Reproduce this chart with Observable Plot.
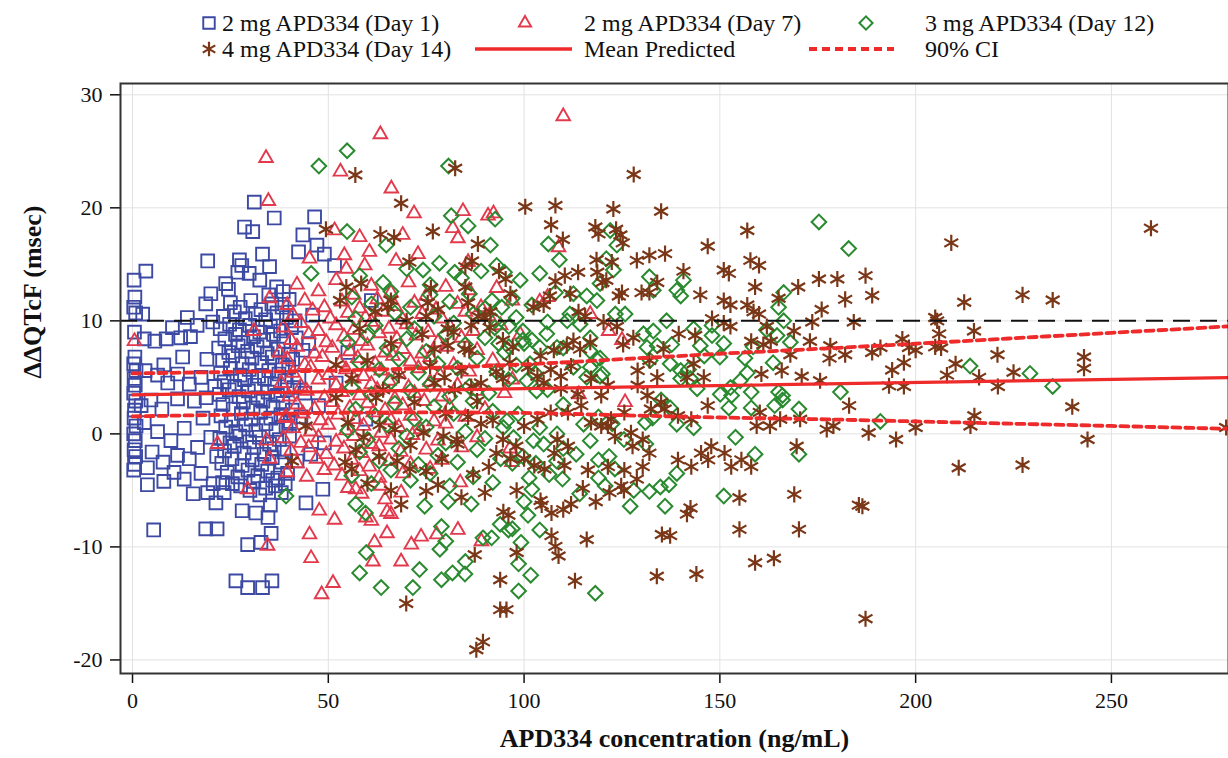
<!DOCTYPE html>
<html><head><meta charset="utf-8">
<script src="https://cdn.jsdelivr.net/npm/d3@7"></script>
<script src="https://cdn.jsdelivr.net/npm/@observablehq/plot@0.6"></script>
<style>
html,body{margin:0;padding:0;background:#fff;}
#wrap{position:relative;width:1228px;height:758px;overflow:hidden;background:#fff;}
#chart{position:absolute;left:0;top:0;}
#legend{position:absolute;left:0;top:0;}
</style></head>
<body>
<div id="wrap"><div id="chart"></div><svg id="legend" width="1228" height="72"></svg></div>
<script>
// ---------- data (concentration ng/mL, ΔΔQTcF msec) ----------
const day1 = [
[0.4,13.6],[0.6,12.1],[0.3,11.2],[0.8,10.7],[0.5,9.0],[0.6,6.8],[0.3,6.2],[0.9,5.6],[0.4,4.9],[0.7,4.3],[0.3,3.6],[0.8,2.9],[0.5,2.1],[0.4,1.4],[0.9,0.7],[0.3,0.0],[0.7,-0.6],[0.4,-1.4],[0.8,-2.0],[0.5,-2.7],[0.3,-3.2],
[31.1,20.5],[36.2,19.1],[28.6,18.3],[30.7,17.9],[46.5,19.2],[43.5,17.6],[47.1,16.7],[42.4,16.1],[49.0,15.9],[51.6,14.9],[33.2,15.9],[35.0,14.8],[27.3,15.4],[27.9,14.9],[19.2,15.3],[3.4,14.4],[26.9,14.3],[29.8,14.2],[32.5,13.6],[36.8,13.0],[38.5,12.6],[34.8,12.3],[24.5,12.8],
[3.8,-4.5],[19.2,-5.2],[23.4,-5.2],[21.3,-6.1],[5.4,-8.5],[18.7,-8.4],[21.6,-8.4],[29.4,-9.8],[32.8,-9.6],[35.4,-8.8],[34.6,-7.4],[35.2,-6.3],[26.4,-13.0],[29.4,-13.6],[33.2,-13.6],[35.6,-13.0],[44.3,-6.1],[48.6,-4.9],[30.0,-5.0],[32.5,-5.4],[34.0,-4.8],[36.5,-4.6],[38.0,-5.2],[28.0,-6.8],[31.5,-7.0],[25.5,-4.4],
[2.6,10.6],[14.0,10.3],[18.7,11.5],[20.0,12.4],[23.8,13.3],[16.5,9.6],[10.2,9.4],[3.0,8.4],[5.7,8.2],[8.6,8.4],[12.3,8.5],[14.8,8.6],[20.5,9.9],
[6.4,5.2],[9.0,4.5],[11.5,5.3],[14.5,4.4],[17.5,5.0],[21.0,4.2],[3.2,5.6],[8.0,6.1],[19.0,6.6],[12.8,6.8],
[4.7,3.0],[11.5,3.1],[15.8,2.9],[18.8,3.2],[7.5,2.2],[2.2,2.5],
[3.0,1.0],[6.4,0.2],[9.8,-0.6],[13.2,0.5],[16.6,-1.2],[20.0,-0.3],[5.0,-1.6],[11.5,-1.9],[18.0,1.4],[7.8,-2.5],[14.5,-2.2],[21.5,-2.0],
[3.8,-3.0],[10.6,-3.4],[13.2,-4.0],[17.5,-3.5],[8.0,-4.2],[20.6,-4.4],[15.5,-5.3],
[25.0,11.6],[27.5,11.2],[30.2,11.8],[32.8,11.0],[35.6,11.5],[38.2,11.2],[40.0,11.9],
[23.2,10.4],[26.0,10.8],[28.8,10.2],[31.4,10.6],[34.0,10.1],[36.9,10.7],[39.3,10.3],[41.5,10.0],
[22.4,9.3],[24.8,9.7],[27.3,9.2],[29.9,9.6],[32.5,9.0],[35.2,9.5],[37.8,9.1],[40.6,9.4],
[23.6,8.4],[26.3,8.8],[28.2,8.1],[30.9,8.6],[33.5,8.3],[36.0,8.8],[38.6,8.2],[41.8,8.5],[45.0,8.0],
[22.0,7.6],[24.6,7.2],[27.0,7.8],[29.4,7.3],[31.8,7.7],[34.4,7.1],[37.2,7.5],[39.8,7.0],[43.5,7.4],
[23.0,6.5],[25.6,6.9],[28.0,6.2],[30.5,6.7],[33.0,6.3],[35.7,6.8],[38.3,6.1],[40.9,6.6],
[22.5,5.4],[25.0,5.8],[27.5,5.2],[29.8,5.7],[32.2,5.1],[34.8,5.6],[37.4,5.3],[39.9,5.9],[42.5,5.0],
[23.4,4.6],[26.1,4.2],[28.6,4.8],[31.2,4.3],[33.7,4.9],[36.3,4.4],[38.9,4.7],[41.2,4.1],
[22.2,3.5],[24.7,3.9],[27.2,3.3],[29.6,3.8],[32.0,3.2],[34.6,3.7],[37.0,3.4],[39.5,3.9],[44.0,3.6],
[23.1,2.6],[25.7,2.2],[28.3,2.8],[30.8,2.3],[33.3,2.9],[35.9,2.4],[38.4,2.7],[40.8,2.1],
[22.6,1.6],[25.2,1.2],[27.8,1.8],[30.3,1.3],[32.7,1.9],[35.3,1.4],[37.9,1.7],[40.3,1.1],[43.0,1.5],
[23.8,0.6],[26.4,0.2],[28.9,0.8],[31.5,0.3],[34.1,0.9],[36.6,0.4],[39.2,0.7],
[22.3,-0.4],[24.9,-0.8],[27.4,-0.2],[29.9,-0.7],[32.4,-0.3],[35.0,-0.9],[37.5,-0.5],[40.1,-0.2],
[23.5,-1.5],[26.0,-1.1],[28.5,-1.7],[31.0,-1.2],[33.6,-1.8],[36.2,-1.3],[38.7,-1.6],
[22.8,-2.6],[25.4,-2.2],[28.0,-2.8],[30.6,-2.3],[33.0,-2.7],[35.7,-2.1],[38.1,-2.5],[42.0,-2.4],
[24.2,-3.4],[26.9,-3.8],[29.5,-3.2],[32.0,-3.7],[34.5,-3.3],[37.1,-3.9],[39.6,-3.5],
[23.0,-4.3],[27.6,-4.6],[31.0,-4.2],[35.8,-4.1],[39.0,-4.4],
[49.0,-0.8],[55.0,7.2],[61.0,11.8],[47.5,2.5],[45.5,-1.8],[52.0,4.5],[46.0,10.5],[59.6,1.3]
];
const day7 = [
[0.5,8.2],[35.0,12.0],[31.0,9.1],[21.7,-0.9],[34.2,-0.6],[35.0,-2.2],[39.2,1.5],
[110,28.1],[63.3,26.5],[34.1,24.4],[53.1,23.2],[66.1,21.7],[34.7,20.6],[71.9,19.5],[84.4,19.7],[81.8,18.2],[83.1,17.3],[58,17.4],[60.5,16.1],[45.2,15.5],[54.1,15.8],[51.6,18.0],[69,17.6],[72.9,15.9],[67.3,15.3],[59.3,14.9],[54.6,14.6],[85.7,15.2],[90.8,19.3],[92.2,19.5],[108.8,16.5],
[29.4,-4.9],[34.5,-9.9],[47.7,-6.8],[51.6,-7.6],[45.2,-8.9],[45.6,-11],[51.2,-13.2],[48.3,-14.2],[61.8,-9.6],[61.4,-11.3],[65,-8.8],[68.6,-11.3],[71.2,-9.8],[73.7,-9.1],[77.7,-8.9],[83.1,-8.5],[89.1,-9.5],[59.6,-7.4],[61,-7.7],[63.5,-4.6],[64.5,-5.8],[65,-6.9],[66,-7.1],[68.6,-5.2],[57,-4.9],[58.5,-5.3],[55,-4.8],[83.7,-4.3],
[104,11.7],[106,12.1],[116.9,10.6],[121.6,9.1],[125,8.3],[125.8,2.8],[96.4,-1.3],[96.9,-2.5],[95,3.6],[114,3.5],
[42,13.2],[47.5,12.6],[52,13.6],[56.5,12.3],[61,13.1],[66,12.5],[70.5,13.4],[75,12.2],[80,13.0],[86,12.7],[93,12.9],
[39.5,11.4],[44,11.8],[49,11.2],[53.5,11.7],[58,11.1],[62.5,11.9],[67,11.3],[72,11.6],[77.5,11.0],[83,11.5],[89,11.2],[97,11.8],
[41,10.5],[46,10.9],[50.5,10.2],[55,10.7],[59.5,10.3],[64,10.8],[69,10.1],[74,10.6],[79,10.2],[85,10.8],[91,10.4],
[38.5,9.4],[43,9.8],[47.5,9.1],[52,9.6],[56.5,9.2],[61,9.9],[65.5,9.3],[70,9.7],[75.5,9.0],[81,9.5],[87,9.1],[94,9.6],
[40.5,8.3],[45,8.8],[49.5,8.1],[54,8.6],[58.5,8.2],[63,8.9],[67.5,8.4],[72.5,8.7],[78,8.1],[84,8.5],[99,8.8],
[37.5,7.2],[42,7.7],[46.5,7.1],[51,7.6],[55.5,7.3],[60,7.8],[64.5,7.2],[69,7.5],[74,7.1],[80,7.7],[88,7.4],
[39.5,6.6],[44,6.1],[48.5,6.8],[53,6.3],[57.5,6.7],[62,6.2],[66.5,6.9],[71,6.4],[76,6.8],[82,6.1],[92,6.5],
[41,5.4],[45.5,5.9],[50,5.2],[54.5,5.7],[59,5.1],[63.5,5.6],[68,5.3],[73,5.8],[78.5,5.2],[86,5.5],
[38,4.5],[43,4.2],[47.5,4.8],[52,4.3],[56.5,4.9],[61,4.4],[65.5,4.7],[70.5,4.1],[76,4.6],[83,4.3],[97,4.8],
[40,3.3],[44.5,3.8],[49,3.2],[53.5,3.7],[58,3.4],[62.5,3.9],[67,3.1],[72,3.6],[79,3.3],[88,3.8],
[42,2.6],[46.5,2.2],[51,2.8],[55.5,2.3],[60,2.7],[64.5,2.1],[69,2.5],[74.5,2.9],[81,2.4],[90,2.2],
[39,1.4],[43.5,1.8],[48,1.2],[52.5,1.7],[57,1.3],[61.5,1.9],[66,1.2],[71,1.6],[77,1.1],[85,1.5],
[41,0.5],[45.5,0.2],[50,0.8],[54.5,0.3],[59,0.7],[63.5,0.1],[68,0.6],[73.5,0.4],[80,0.9],
[38.5,-0.4],[43,-0.8],[47.5,-0.3],[52,-0.7],[56.5,-0.2],[61,-0.9],[66,-0.5],[71.5,-0.1],[78,-0.6],[88,-0.3],
[40.5,-1.5],[45,-1.2],[49.5,-1.8],[54,-1.3],[58.5,-1.7],[63,-1.1],[68.5,-1.6],[75,-1.4],[84,-1.2],
[42,-2.6],[47,-2.2],[51.5,-2.8],[56,-2.3],[60.5,-2.9],[65.5,-2.4],[71,-2.7],[79,-2.3],
[39.5,-3.4],[44.5,-3.8],[49,-3.2],[53.5,-3.7],[58,-3.3],[63,-3.9],[69,-3.5],[76,-3.1]
];
const day12 = [
[54.8,25.05],[47.6,23.7],[80.7,23.7],[81.4,19.3],[85.7,18.4],[64.8,16.7],[54.8,17.9],[78.4,15.1],[74.2,14.5],[82.3,14.3],[45.6,14.2],[92.6,19.0],[91.4,16.7],[106.2,16.8],[109,15.4],[122,18.0],[123.7,16.7],[122.8,14.5],[132,13.9],[175.3,18.75],[182.9,16.4],[93,14.9],[95,14.3],[121,15.5],
[213.9,6.0],[229.2,5.35],[235,4.2],[191,1.1],
[102,-4.9],[100,-6.0],[101,-7.2],[93.9,-8.0],[96,-8.5],[97,-8.4],[104,-8.5],[99.2,-9.6],[98.6,-11.5],[101.7,-12.5],[98.6,-13.9],[118.2,-14.1],[127.1,-6.4],[136,-6.4],[120.7,-4.6],[114.2,-5.3],[151,-5.5],[91.7,-9.2],[39.2,-5.5],[74.6,-6.4],[80.6,-6.0],[86.5,-6.2],[78.9,-8.2],[80,-9.5],[78.5,-10.2],[59.7,-10.5],[58,-12.3],[63.5,-13.6],[71.6,-13.6],[73.3,-12.0],[78.9,-12.9],[81.7,-12.3],[84.9,-12.4],[85,-11.3],[89.5,-9.2],[57,-6.2],[59.5,-7.0],
[166.3,12.5],[165,11.2],[166.3,10.0],[164.6,8.7],[168,8.1],[180.8,3.7],[170.2,2.2],[166,3.4],[166,3.0],[154,-0.3],[170.2,-1.8],[159,-1.8],[150.1,3.5],[152.3,2.3],[152.7,4.1],[157,5.4],[155.2,4.7],[150,6.8],[151,8.0],[148,9.6],[148,8.7],[146,6.9],[142,5.7],[140,4.9],[143.3,0.55],[139,0.86],[132.8,1.4],[131,1.0],[137.3,2.3],[135,3.0],[137,-4.5],[139,-3.5],[134.8,-4.7],[131.1,-0.9],[128,-5.0],[132,-5.1],[116.9,-0.6],[115.2,0.86],[119,1.5],[118.5,6.6],[116.9,5.9],[120,5.3],[130.5,8.85],[133,9.1],[131.4,7.65],[134,7.8],[132.2,6.5],[123.3,10.6],[125.8,10.6],[133,12.7],[140,12.2],[139,12.7],[140.7,13.6],[111,10.0],[105.8,8.85],[108.4,7.65],[104,7.65],[112.6,5.9],[116,5.0],[119.4,5.1],[101.5,6.2],[100.7,4.7],[103.2,3.8],[98.5,1.75],[95.6,1.15],[94.7,0.56],[97.3,-0.33],[104,0.56],[102.4,-0.6],[105,-0.9],[108.4,0.0],[110,-1.3],[113.3,-1.8],[108.3,-2.4],[99.7,-2.0],[103,-2.6],[97,-2.6],[101.3,-3.9],[106.4,-3.6],[109.8,-4.0],[119,-2.3],[121.7,-2.0],[119,-3.9],[123.2,-3.1],[122.5,0.9],[125.5,-0.5],[140,5.6],
[91.8,11.8],[94.3,11.2],[92.6,10.0],[96.1,9.5],[93.5,8.0],[96.1,7.7],[99.7,9.1],[99.7,8.3],[102,8.3],[112.6,12.4],[116,12.2],[118.6,11.8],[119.4,13.3],[111.7,10.6],[114.3,9.7],[116.9,8.5],[116.9,7.3],[119.4,6.7],[136.4,10.0],[137.7,7.9],[137.3,6.2],[143.3,9.3],[145,7.8],[142.5,4.9],[144.2,4.0],[158.5,7.7],[156.4,6.7],[161.9,9.2],[163.6,6.3],[153,3.4],[158,3.7],[158,2.3],[165,3.7],[164,2.5],
[58,14.0],[64,13.4],[70,14.6],[76,13.2],[84,13.8],[89,14.4],[99,13.6],[104,14.2],
[56,12.1],[61,11.5],[66,12.6],[71,11.2],[76,12.3],[81,11.7],[86,12.4],[90,11.1],[97,12.0],[102,11.4],[108,12.5],
[57,10.2],[62,9.6],[67,10.7],[72,9.3],[77,10.4],[82,9.8],[87,10.6],[92.5,9.4],[98,10.3],[106,9.9],
[55,8.1],[60,8.7],[65,7.6],[70,8.4],[75,7.3],[80,8.8],[85,7.9],[90,8.5],[95,7.2],[100,8.0],[110,7.6],
[58,6.3],[63,5.7],[68,6.6],[73,5.4],[78,6.2],[83,5.8],[88,6.7],[93,5.5],[98,6.1],[103,5.3],
[56,4.1],[61,3.5],[66,4.6],[71,3.8],[76,4.4],[81,3.3],[86,4.2],[91,3.6],[96,4.8],[106,3.9],
[57,2.2],[62,1.6],[67,2.7],[72,1.3],[77,2.4],[82,1.8],[87,2.9],[92,2.0],[110,2.6],
[55,0.3],[60,-0.5],[65,0.8],[70,-0.2],[75,0.6],[80,-0.8],[85,0.2],[90,-0.4],
[58,-1.6],[63,-2.4],[68,-1.3],[73,-2.7],[78,-1.9],[83,-2.5],[88,-1.4],[94,-2.2],
[56,-3.7],[61,-4.4],[66,-3.2],[71,-4.1],[76,-3.5],[81,-4.6],[87,-3.8],[92,-4.3]
];
const day14 = [
[56.9,22.9],[68.6,20.4],[82.4,23.5],[49.4,18.1],[63.3,17.65],[66.8,17.4],[76.7,17.9],[88.2,16.8],[70.7,15.2],[86.7,15.3],[85,14.8],[128,22.95],[100.3,20.1],[108,20.2],[122.8,19.9],[135,19.7],[106.9,18.5],[118.2,18.3],[119,17.7],[123.5,18.1],[124.6,17.6],[125.2,16.9],[109.9,17.2],[146.9,16.6],[157,18.0],[128.8,15.35],[132,15.8],[136,15.95],[140.7,14.4],[151,14.5],[152.3,14.2],[157.8,15.35],[160,14.9],[118.5,15.4],[122.4,15.2],[113.8,14.3],[110.4,14.0],[108,13.5],[118.7,14.3],[93.6,14.4],[95.3,13.7],[175.3,13.7],[180,13.7],[209.1,16.9],[260.1,18.2],[187.2,14.0],
[188.9,12.25],[212.4,11.65],[227.3,12.3],[235,11.85],[205,10.3],[205.5,10.0],[206,8.85],[214.9,9.1],[196.6,8.4],[198.3,7.65],[200,7.4],[205,7.7],[206.5,7.6],[191,7.65],[188.9,7.2],[220.9,7.0],[243,6.8],[243,5.8],[210.2,6.2],[208,5.2],[197,6.3],[194,5.65],[225,5.45],[216.2,5.0],[193.2,4.25],[197,4.2],[221,4.2],[240,2.4],[215,1.6],[214,0.7],[200,0.56],[188,0.1],[195,-0.5],[243.9,-0.5],[279.3,0.56],[211,-3.0],[227.3,-2.75],
[186.4,-6.4],[187.2,-16.35],[98.1,-5.0],[104.2,-5.9],[104.5,-6.3],[107,-7.0],[110,-6.7],[112,-6.2],[115,-4.8],[118.3,-6.0],[121.8,-5.2],[124.8,-4.6],[125.5,-5.0],[128.8,-4.0],[96,-7.2],[94.7,-6.9],[107,-9.0],[108,-9.95],[108.8,-10.8],[116,-9.35],[135.2,-8.9],[137.3,-9.0],[142.5,-6.55],[141.6,-7.1],[133.9,-12.6],[144,-12.4],[113,-13.0],[93.9,-12.9],[98.1,-10.5],[93.9,-15.55],[95.5,-15.55],[87.8,-19.1],[89.5,-18.4],[155,-5.65],[155,-8.45],[169,-5.35],[170.2,-8.45],[159,-11.4],[163.8,-11.0],[185.5,-6.3],[75,-5.05],[68.6,-6.25],[87.4,-10.7],[69.9,-15.0],
[159,13.0],[151,11.8],[152.7,11.4],[157,11.4],[158.6,10.8],[160,10.6],[173.6,9.9],[184.2,9.9],[152.7,9.5],[151,9.8],[168.9,9.1],[173,8.2],[178.2,7.8],[139.5,8.85],[143.7,8.7],[135.6,7.5],[161.1,7.9],[163,8.2],[158,8.2],[168,7.0],[178,6.7],[182,7.0],[143.3,6.2],[141.6,5.0],[145.9,5.0],[160.6,5.3],[165.8,5.6],[170.9,5.1],[175.6,4.7],[183,2.5],[132,6.5],[129,5.6],[134,5.0],[125.3,7.9],[127.9,8.5],[130,12.5],[132,12.5],[134,13.4],[124.2,12.2],[125,12.5],[120,13.4],[121,13.6],[111.8,12.4],[106.6,12.2],[102.4,11.2],[105,11.4],[96.5,12.4],[91.4,10.8],[113.9,10.8],[115.6,10.4],[120.3,9.9],[123.7,9.5],[112.6,8.25],[110.9,7.8],[114.3,7.5],[116.9,8.1],[107.6,7.4],[104.2,6.9],[106.8,5.7],[109.4,5.1],[112,6.0],[103.4,5.1],[105,4.5],[101,5.9],[94.6,8.3],[97.1,7.7],[91.2,9.4],[92.9,5.5],[94.6,4.9],[96.3,6.3],[109.4,4.0],[113.7,3.5],[117.1,4.9],[121.4,4.3],[119.7,3.4],[129,4.3],[131.5,3.4],[135,2.8],[132.4,2.2],[125.6,1.9],[122.2,1.3],[127.3,0.1],[135.9,2.2],[139.3,1.6],[142.7,1.3],[146.9,2.5],[114.6,2.5],[111.2,1.9],[117.1,1.0],[119.7,0.7],[106.8,1.9],[103.4,1.3],[100,0.7],[160.2,1.9],[162.8,0.7],[159.4,0.7],[165.4,1.3],[170.5,1.3],[177.3,0.4],[179,0.7],[169.6,-1.1],[147.8,-1.1],[145.2,-1.7],[151.2,-1.7],[147,-2.3],[142.7,-2.9],[139.3,-2.3],[155.5,-2.3],[152.9,-2.9],[158,-2.9],[130.3,-0.5],[127.7,-1.1],[132,-1.7],[130.3,-2.9],[121.4,0.7],[123.2,-0.2],[125.6,-3.2],[121.4,-2.9],[116.3,-3.2],[110.3,-2.8],[105.2,-3.1],[102.6,-2.8],[100,-2.2],[96.5,-2.2],[108.5,-0.5],[111.2,-1.1],[107.7,-1.7],[94.6,-0.5],[92.9,-1.7],[98,-1.1],
[54.6,13.0],[58.4,13.3],[66,11.8],[65.2,11.2],[76.2,12.9],[85,13.0],[80.5,7.8],[77.1,7.5],[84.8,7.5],[86.5,9.6],[80.5,9.3],[74.3,0.1],[79.4,-0.2],[82.8,-0.5],[40.7,-2.4],[44.2,0.7],[52.0,3.2],[62.2,3.2],[63.1,0.8],[57.0,-1.4],[67.6,-2.4],[85.7,1.5],[89,0.9],[54.3,-2.5],[56,-3.1],[70.8,-3.1],[75,10.4],[75.4,11.6],[85.7,11.6],[88.3,10.4],[77.1,4.5],[79.7,5.0],[82.3,3.9],[86.5,4.2],[89,4.5],
[53,11.8],[58,9.3],[62,10.8],[66,8.0],[70,10.0],[74,8.8],[78,11.0],[82,9.0],[86,7.4],[90,10.3],
[52,6.1],[56,4.9],[60,6.5],[64,3.9],[68,5.2],[72,2.8],[76,6.0],[80,1.8],[84,5.6],[88,2.9],[92,1.2],
[55,1.0],[59,-0.3],[63,-2.0],[67,0.4],[71,-1.0],[75,-3.3],[79,-2.2],[83,-0.9],[87,-3.6],[91,-2.9],
[60,-4.4],[66,-5.0],[78,-4.5],[84,-5.6],[90,-5.2],
[145,12.3],[165,12.0],[170,13.0],[176,11.0],[182,11.9],[148,10.2],[162,9.5]
];
// fitted mean and 90% CI
const meanX = [0, 280];
const meanY = [3.45, 4.98];
const ciX = [0, 25, 50, 75, 100, 125, 150, 175, 200, 225, 250, 280];
const ciUpper = [5.35, 5.48, 5.59, 5.82, 6.15, 6.61, 7.09, 7.52, 7.98, 8.46, 8.94, 9.51];
const ciLower = [1.55, 1.7, 1.85, 1.9, 1.85, 1.65, 1.45, 1.3, 1.1, 0.9, 0.7, 0.45];
const refY = [10];
const xTicks = [0, 50, 100, 150, 200, 250];
const yTicks = [-20, -10, 0, 10, 20, 30];
const legendLabels = ["2 mg APD334 (Day 1)", "2 mg APD334 (Day 7)", "3 mg APD334 (Day 12)", "4 mg APD334 (Day 14)", "Mean Predicted", "90% CI"];
const xTitle = "APD334 concentration (ng/mL)";
const yTitle = "ΔΔQTcF (msec)";

// ---------- styles ----------
const BLUE = "#3d4aa3", RED = "#e23a4c", GREEN = "#2a8a2f", BROWN = "#7a3717", LRED = "#ee2a2a";
const FONT = "'Liberation Serif', 'Times New Roman', serif";
const sym = {
  d1: {symbol: "square", r: 7.2, stroke: BLUE, sw: 1.9},
  d7: {symbol: "triangle2", r: 6.5, stroke: RED, sw: 1.9},
  d12: {symbol: "diamond2", r: 6.6, stroke: GREEN, sw: 2.0},
  d14: {symbol: "asterisk", r: 7.6, stroke: BROWN, sw: 2.2}
};
const acc = {x: d => d[0], y: d => d[1]};
const ciUp = ciX.map((x, i) => [x, ciUpper[i]]);
const ciLo = ciX.map((x, i) => [x, ciLower[i]]);
const mean = meanX.map((x, i) => [x, meanY[i]]);
const dots = (data, s) => Plot.dot(data, {...acc, symbol: s.symbol, r: s.r, stroke: s.stroke, strokeWidth: s.sw, fill: "none"});

const chart = Plot.plot({
  width: 1228, height: 758,
  marginTop: 83, marginRight: 0, marginBottom: 85, marginLeft: 120,
  style: {fontFamily: FONT, background: "transparent", color: "#111"},
  x: {domain: [-3.07, 279.9]},
  y: {domain: [-21.2, 31.0]},
  marks: [
    Plot.gridX(xTicks, {stroke: "#e2e2e2", strokeOpacity: 1, strokeWidth: 1}),
    Plot.gridY(yTicks, {stroke: "#e2e2e2", strokeOpacity: 1, strokeWidth: 1}),
    dots(day1, sym.d1),
    dots(day7, sym.d7),
    dots(day12, sym.d12),
    dots(day14, sym.d14),
    Plot.ruleY(refY, {stroke: "#111", strokeWidth: 2, strokeDasharray: "17,10"}),
    Plot.line(ciUp, {...acc, stroke: LRED, strokeWidth: 3.8, strokeDasharray: "8,5", curve: "monotone-x", clip: true}),
    Plot.line(ciLo, {...acc, stroke: LRED, strokeWidth: 3.8, strokeDasharray: "8,5", curve: "monotone-x", clip: true}),
    Plot.line(mean, {...acc, stroke: LRED, strokeWidth: 3.3, clip: true}),
    Plot.axisX(xTicks, {tickSize: 10, tickPadding: 9, fontSize: 22, label: null, tickFormat: d => String(d), stroke: "#111", strokeWidth: 1.5}),
    Plot.axisY(yTicks, {tickSize: 10, tickPadding: 8, fontSize: 22, label: null, tickFormat: d => String(d), stroke: "#111", strokeWidth: 1.5}),
    Plot.frame({stroke: "#333", strokeWidth: 2}),
    Plot.text([xTitle], {frameAnchor: "bottom", dy: 73, fontSize: 26, fontWeight: "bold", fill: "#111"}),
    Plot.text([yTitle], {frameAnchor: "left", dx: -88, rotate: -90, fontSize: 26, fontWeight: "bold", fill: "#111"})
  ]
});
document.getElementById("chart").appendChild(chart);

// ---------- legend ----------
const lg = d3.select("#legend").style("font-family", FONT);
const rows = [23, 49];
const symTypes = {square: d3.symbolSquare, triangle2: d3.symbolTriangle2, diamond2: d3.symbolDiamond2, asterisk: d3.symbolAsterisk};
const symOf = (name, r) => d3.symbol(symTypes[name], Math.PI * r * r)();
const items = [
  {k: "d1", sx: 209, tx: 222, row: 0},
  {k: "d7", sx: 525, tx: 584, row: 0},
  {k: "d12", sx: 866, tx: 925, row: 0},
  {k: "d14", sx: 209, tx: 222, row: 1},
  {line: "solid", x1: 475, x2: 572, tx: 584, row: 1},
  {line: "dash", x1: 809, x2: 894, tx: 925, row: 1}
];
items.forEach((it, i) => {
  const y = rows[it.row];
  if (it.k) {
    const s = sym[it.k];
    lg.append("path").attr("d", symOf(s.symbol, s.r * 0.9)).attr("transform", `translate(${it.sx},${y})`)
      .attr("fill", "none").attr("stroke", s.stroke).attr("stroke-width", s.sw);
  } else {
    lg.append("line").attr("x1", it.x1).attr("x2", it.x2).attr("y1", y).attr("y2", y)
      .attr("stroke", LRED).attr("stroke-width", it.line === "dash" ? 3.8 : 3.3)
      .attr("stroke-dasharray", it.line === "dash" ? "8,5" : null);
  }
  lg.append("text").attr("x", it.tx).attr("y", y).attr("dy", "0.35em").attr("font-size", 24).attr("fill", "#111").text(legendLabels[i]);
});
</script>
</body></html>
